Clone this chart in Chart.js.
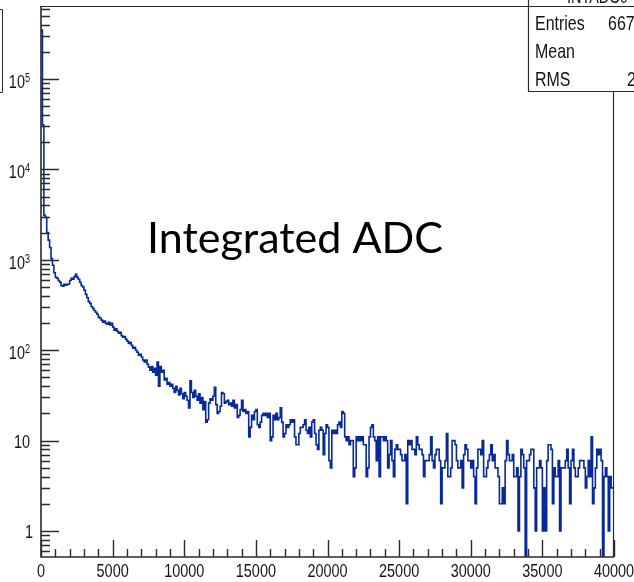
<!DOCTYPE html>
<html>
<head>
<meta charset="utf-8">
<script src="https://cdn.jsdelivr.net/npm/chart.js@4.4.1/dist/chart.umd.min.js"></script>
<style>
  html, body { margin: 0; padding: 0; background: #fff; }
  canvas { display: block; }
</style>
</head>
<body>
<canvas id="adcChart" width="634" height="582"></canvas>
<script>
// histogram: 400 bins of 100 ADC counts, 0 .. 40000
const binWidth = 100;

// bins 0 - 99   (0 .. 10000)
const countsA = [
  348000, 31000, 3100, 2950, 2000, 1650, 1370, 1030, 870, 720,
  640, 625, 590, 565, 520, 510, 535, 525, 535, 540,
  590, 625, 610, 650, 690, 640, 610, 565, 520, 500,
  460, 415, 380, 345, 330, 305, 290, 275, 263, 250,
  232, 226, 215, 204, 210, 199, 194, 204, 190, 199,
  180, 166, 173, 162, 154, 158, 145, 139, 142, 132,
  126, 119, 122, 113, 105, 108, 100, 95, 88, 90,
  84, 78, 74, 78, 70, 65, 60, 66, 57, 63,
  53, 74, 40, 66, 57, 60, 47, 49, 42, 44,
  40, 42, 38, 34, 40, 36, 32, 38, 33, 29
];
// bins 100 - 199   (10000 .. 20000)
const countsB = [
  34, 31, 28, 23, 46, 34, 30, 36, 31, 28,
  33, 26, 30, 22, 27, 16, 17, 26, 29, 28,
  31, 39, 25, 20, 21, 24, 34, 33, 26, 27,
  28, 25, 26, 24, 28, 23, 25, 18, 19, 22,
  28, 21, 22, 20, 21, 11, 14, 19, 17, 21,
  22, 15, 14, 16, 19, 20, 19, 20, 18, 20,
  10, 11, 19, 17, 20, 17, 18, 23, 16, 11,
  12, 15, 14, 15, 17, 16, 17, 11, 9, 9,
  12, 14, 14, 15, 17, 13, 12, 14, 11, 16,
  17, 12, 9, 8, 13, 14, 13, 7, 12, 15
];
// bins 200 - 299   (20000 .. 30000)
const countsC = [
  14, 6, 5, 13, 12, 13, 12, 15, 16, 14,
  21, 20, 11, 10, 11, 9, 10, 10, 4, 5,
  11, 10, 11, 10, 11, 9, 9, 4, 5, 11,
  14, 15, 11, 10, 6, 11, 4, 11, 11, 10,
  11, 10, 5, 7, 10, 6, 4, 8, 9, 8,
  8, 7, 6, 6, 7, 2, 10, 9, 10, 8,
  8, 7, 11, 9, 8, 8, 7, 4, 6, 6,
  6, 7, 11, 6, 5, 7, 8, 8, 6, 2,
  5, 5, 6, 12, 4, 4, 5, 10, 10, 9,
  6, 5, 5, 6, 3, 7, 9, 8, 6, 6
];
// bins 300 - 399   (30000 .. 40000)
const countsD = [
  5, 6, 4, 2, 5, 8, 8, 7, 10, 4,
  4, 5, 6, 7, 9, 6, 7, 5, 5, 4,
  2, 2, 3, 2, 6, 10, 7, 6, 6, 7,
  4, 4, 5, 1, 4, 8, 7, 5, 0, 6,
  6, 7, 8, 8, 3, 1, 5, 5, 6, 5,
  1, 3, 1, 6, 9, 9, 8, 2, 5, 4,
  4, 6, 1, 5, 5, 5, 6, 8, 5, 2,
  6, 8, 5, 4, 4, 5, 6, 6, 6, 5,
  3, 4, 6, 4, 11, 2, 3, 5, 8, 7,
  8, 6, 0, 4, 5, 4, 1, 4, 3, 3
];

const xTickValues = [0, 5000, 10000, 15000, 20000, 25000, 30000, 35000, 40000];
const xTickLabels = ['0', '5000', '10000', '15000', '20000', '25000', '30000', '35000', '40000'];
const yDecades = [0, 1, 2, 3, 4, 5];
const yDecadeLabels = [['1', ''], ['10', ''], ['10', '2'], ['10', '3'], ['10', '4'], ['10', '5']];
const statsTitle = 'INTADC0';
const statsNames = ['Entries', 'Mean', 'RMS'];
const statsValues = ['667', '', '2'];
const overlayText = 'Integrated ADC';

const xMin = 0, xMax = 40000;
const yMin = 0.516, yMax = 642000;

const counts = countsA.concat(countsB, countsC, countsD);
// left edge of every bin, plus the closing edge; empty bins fall to the bottom like ROOT does
const histPoints = counts.map((c, i) => ({ x: xMin + i * binWidth, y: c > 0 ? c : yMin / 4 }));
histPoints.push({ x: xMax, y: histPoints[histPoints.length - 1].y });

const squeeze = 0.76;
function label(ctx, text, x, y, size, align) {
  ctx.save();
  ctx.font = size + 'px "Liberation Sans", Arial, sans-serif';
  ctx.translate(x, y);
  ctx.scale(squeeze, 1);
  ctx.textAlign = align;
  ctx.textBaseline = 'alphabetic';
  ctx.fillText(text, 0, 0);
  ctx.restore();
}
function labelWidth(ctx, text, size) {
  ctx.save();
  ctx.font = size + 'px "Liberation Sans", Arial, sans-serif';
  const w = ctx.measureText(text).width * squeeze;
  ctx.restore();
  return w;
}

const rootFrame = {
  id: 'rootFrame',
  afterDraw(chart) {
    const ctx = chart.ctx;
    const xs = chart.scales.x, ys = chart.scales.y;
    const a = chart.chartArea;
    ctx.save();
    ctx.strokeStyle = '#2a2a2a';
    ctx.fillStyle = '#151515';

    // frame
    ctx.lineWidth = 1.2;
    ctx.beginPath();
    ctx.moveTo(a.left, a.top + 0.5); ctx.lineTo(a.right, a.top + 0.5);
    ctx.moveTo(a.right - 0.5, a.top); ctx.lineTo(a.right - 0.5, a.bottom);
    ctx.stroke();
    ctx.lineWidth = 1.6;
    ctx.beginPath();
    ctx.moveTo(a.left, a.top); ctx.lineTo(a.left, a.bottom); ctx.lineTo(a.right, a.bottom);
    ctx.stroke();

    // x ticks, pointing up into the frame
    ctx.lineWidth = 1.4;
    ctx.beginPath();
    for (let v = xMin; v <= xMax; v += 1000) {
      const px = Math.round(xs.getPixelForValue(v)) + 0.5;
      const len = v % 5000 === 0 ? 17 : 8;
      ctx.moveTo(px, a.bottom); ctx.lineTo(px, a.bottom - len);
    }
    // y ticks, log decades with 2..9 minors
    for (let d = -1; d <= 5; d++) {
      for (let m = 1; m <= 9; m++) {
        const v = m * Math.pow(10, d);
        if (v < yMin || v > yMax) continue;
        const py = Math.round(ys.getPixelForValue(v)) + 0.5;
        const len = m === 1 ? 18 : 9;
        ctx.moveTo(a.left, py); ctx.lineTo(a.left + len, py);
      }
    }
    ctx.stroke();

    // x labels
    xTickValues.forEach((v, i) => {
      label(ctx, xTickLabels[i], xs.getPixelForValue(v), a.bottom + 20, 19, 'center');
    });
    // y labels
    yDecades.forEach((d, i) => {
      const py = ys.getPixelForValue(Math.pow(10, d));
      const [base, sup] = yDecadeLabels[i];
      const right = 30;
      if (sup) {
        label(ctx, sup, right, py + 3, 12, 'right');
        label(ctx, base, right - labelWidth(ctx, sup, 12), py + 9, 19, 'right');
      } else {
        label(ctx, base, right + (base === '1' ? 3 : 0), py + 7, 19, 'right');
      }
    });

    // stats box (top right, cut by the picture edge)
    const bx = 528.5, bBottom = 91.5;
    ctx.fillStyle = '#fff';
    ctx.fillRect(bx, 0, chart.width - bx, bBottom);
    ctx.lineWidth = 1.2;
    ctx.beginPath();
    ctx.moveTo(bx, 0); ctx.lineTo(bx, bBottom); ctx.lineTo(chart.width, bBottom);
    ctx.moveTo(bx, 6.5); ctx.lineTo(chart.width, 6.5);
    ctx.stroke();
    ctx.fillStyle = '#111';
    label(ctx, statsTitle, 567, 3, 19, 'left');
    statsNames.forEach((n, i) => {
      const by = 30 + i * 28;
      label(ctx, n, 535, by, 21, 'left');
      if (statsValues[i]) {
        label(ctx, statsValues[i], i === 0 ? 608 : 627, by, 21, 'left');
      }
    });

    // edge of the neighbouring pad at the top left
    ctx.lineWidth = 1;
    ctx.beginPath();
    ctx.moveTo(0, 9.5); ctx.lineTo(2.5, 9.5); ctx.lineTo(2.5, 92.5); ctx.lineTo(0, 92.5);
    ctx.stroke();

    // overlay title
    ctx.fillStyle = '#000';
    ctx.font = '43px Lato, "Open Sans", sans-serif';
    const tw = ctx.measureText(overlayText).width;
    ctx.save();
    ctx.translate(147, 253);
    ctx.scale(296 / tw, 1);
    ctx.textAlign = 'left';
    ctx.fillText(overlayText, 0, 0);
    ctx.restore();

    ctx.restore();
  }
};

new Chart(document.getElementById('adcChart'), {
  type: 'line',
  data: {
    datasets: [{
      data: histPoints,
      stepped: 'before',
      borderColor: '#08299a',
      borderWidth: 1.6,
      pointRadius: 0,
      fill: false,
      tension: 0
    }]
  },
  options: {
    responsive: false,
    animation: false,
    layout: { padding: { left: 41, top: 6, right: 20, bottom: 25 } },
    plugins: { legend: { display: false }, tooltip: { enabled: false } },
    scales: {
      x: { type: 'linear', display: false, min: xMin, max: xMax, bounds: 'data' },
      y: { type: 'logarithmic', display: false, min: yMin, max: yMax, bounds: 'data' }
    }
  },
  plugins: [rootFrame]
});
</script>
</body>
</html>
